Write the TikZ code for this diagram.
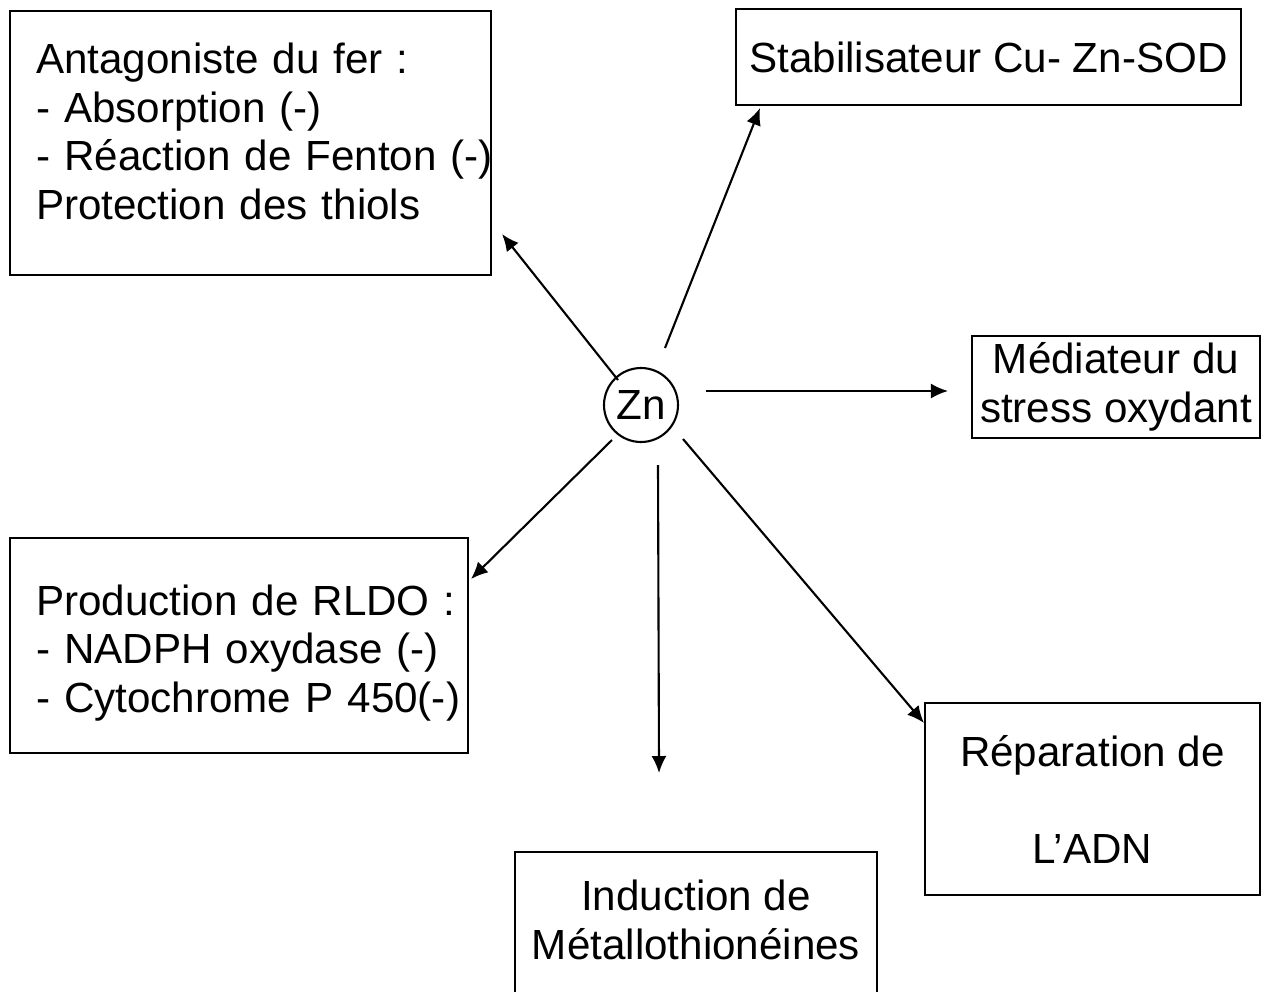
\documentclass[tikz,border=0pt]{standalone}
\usepackage{fontspec}
\setmainfont{Liberation Sans}
\usetikzlibrary{arrows.meta}

\begin{document}
\begin{tikzpicture}[x=0.02cm, y=-0.02cm,
		every node/.style={font=\fontsize{24}{27.6}\selectfont},
		box/.style={draw, line width=1.2pt, inner sep=0pt},
		arr/.style={-{Latex[length=0.34cm,width=0.3cm]}, line width=1.2pt}]
				\useasboundingbox (0,0) rectangle (1268,991);
				\clip (0,0) rectangle (1268,991);
				% Centre
				\node[draw, circle, line width=1.2pt, minimum size=1.48cm, inner sep=0pt] (zn) at (641,405) {Zn};
				% Boxes
				\node[box, anchor=north west, align=left, text width=8.58cm, inner xsep=0.52cm, minimum height=5.28cm] (fer) at (9,10)
					{Antagoniste du fer :\\- Absorption (-)\\\mbox{- Réaction de Fenton (-)}\\Protection des thiols\rule[-0.48cm]{0pt}{0pt}};
				\node[box, minimum width=10.1cm, minimum height=1.92cm] (sod) at (988.5,57) {Stabilisateur Cu- Zn-SOD};
				\node[box, align=center, minimum width=5.76cm, minimum height=2.04cm] (stress) at (1116,387) {Médiateur du\\stress oxydant};
				\node[box, anchor=north west, align=left, text width=8.12cm, inner xsep=0.52cm, minimum height=4.3cm] (rldo) at (9,537)
					{\mbox{Production de RLDO :}\rule{0pt}{0.9cm}\\- NADPH oxydase (-)\\\mbox{- Cytochrome P 450(-)}};
				\node[box, anchor=north west, align=center, minimum width=7.24cm, minimum height=2.98cm] (mt) at (514,851)
					{Induction de\\Métallothionéines\rule[-0.28cm]{0pt}{0pt}};
				\node[box, anchor=north west, align=center, minimum width=6.7cm, minimum height=3.84cm] (adn) at (924,702) {Réparation de\\[27.6pt]L’ADN};
				% Arrows
				\draw[arr] ([shift={(-23,-25)}]zn.center) -- ([shift={(10,-42)}]fer.south east);
				\draw[arr] ([shift={(24,-57)}]zn.center) -- ([shift={(25,2)}]sod.south west);
				\draw[arr] ([shift={(65,-14)}]zn.center) -- ([shift={(-23,4)}]stress.west);
				\draw[arr] ([shift={(-29,35)}]zn.center) -- ([shift={(2,42)}]rldo.north east);
				\draw[arr] ([shift={(17,60)}]zn.center) -- ([shift={(-37,-78)}]mt.north);
				\draw[arr] ([shift={(42,34)}]zn.center) -- ([shift={(0,21)}]adn.north west);
			\end{tikzpicture}
\end{document}
